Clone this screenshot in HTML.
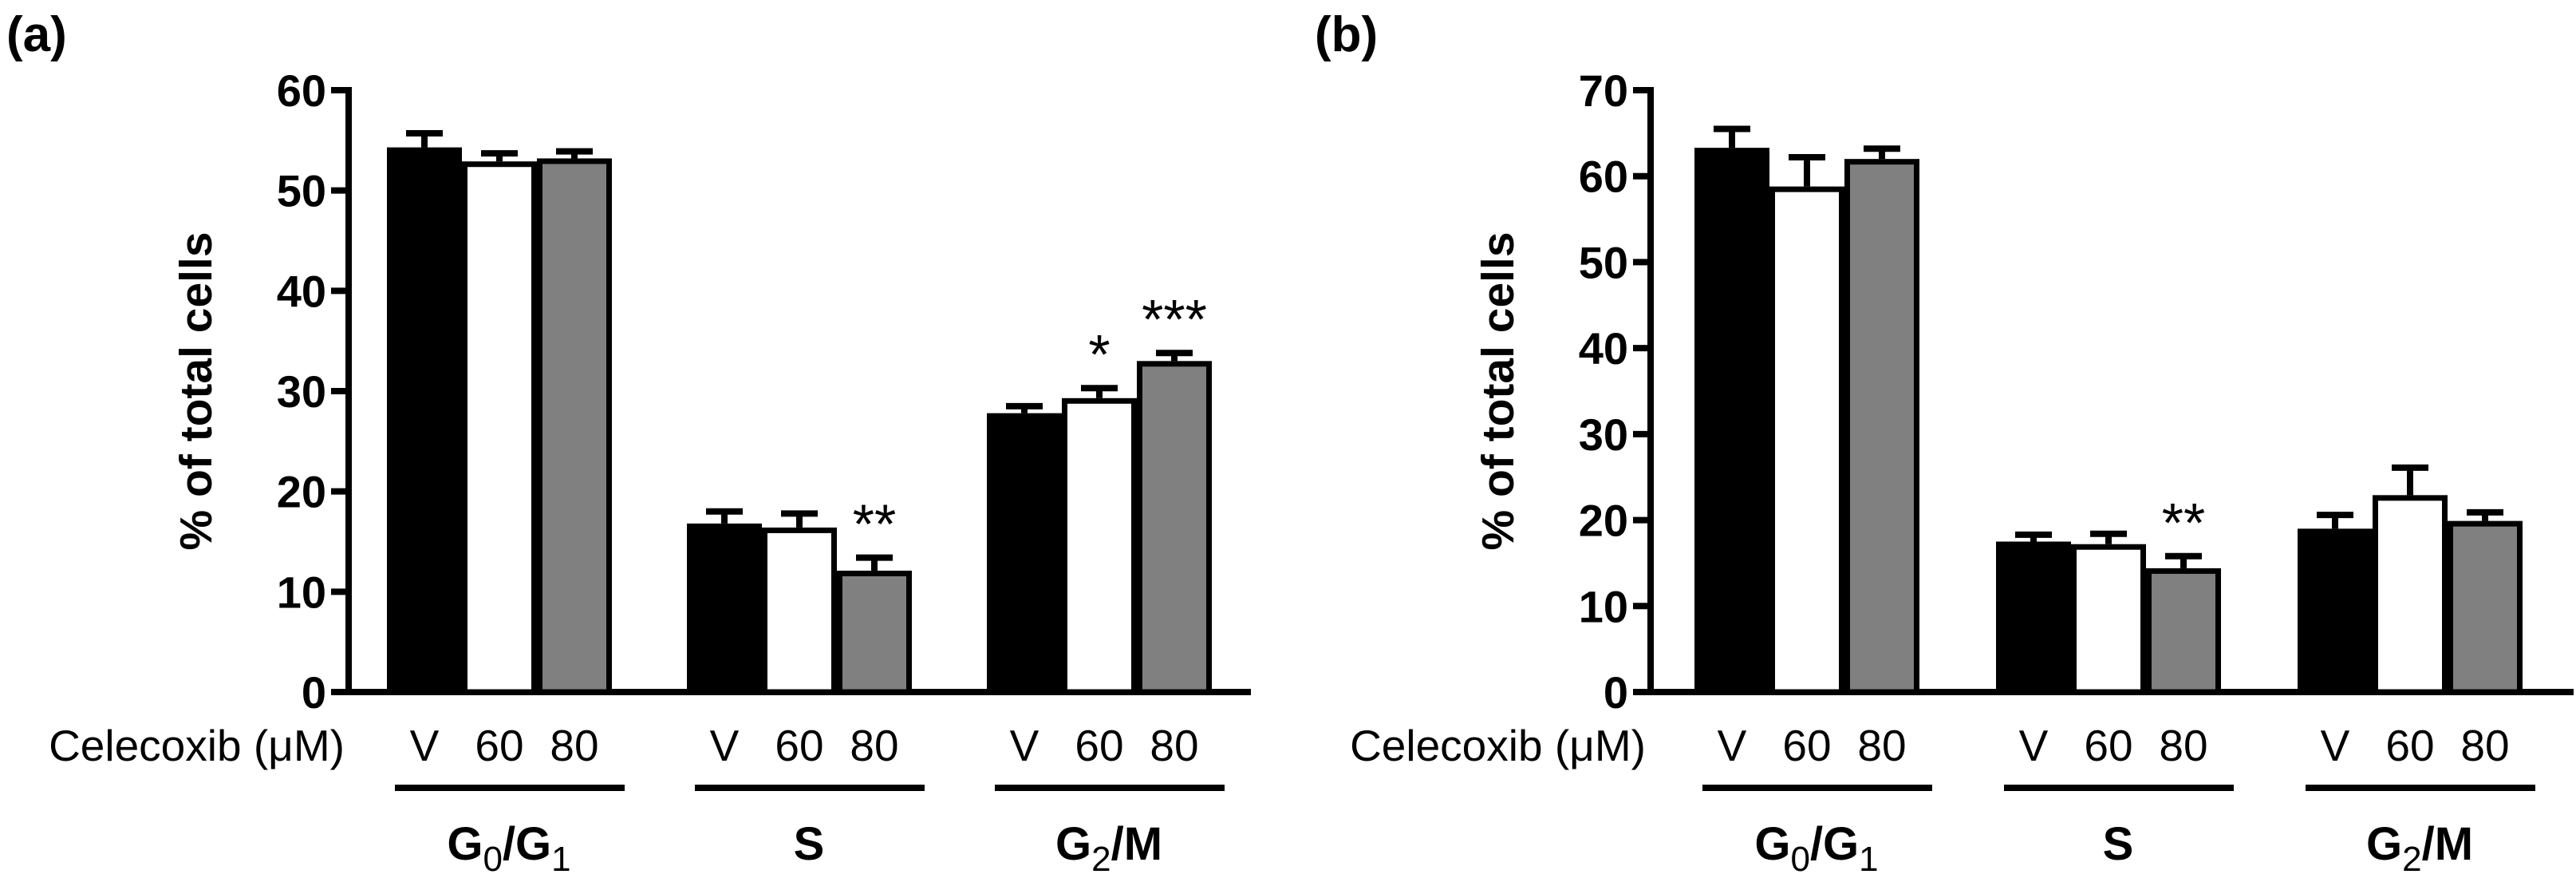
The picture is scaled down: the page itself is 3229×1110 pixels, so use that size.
<!DOCTYPE html>
<html><head><meta charset="utf-8"><style>
html,body{margin:0;padding:0;background:#fff;}
svg{display:block;font-family:"Liberation Sans",Arial,sans-serif;}
</style></head><body>
<svg id="fig" width="3229" height="1110" viewBox="0 0 3229 1110" xmlns="http://www.w3.org/2000/svg"></svg>
<script>
const phases = ["G0/G1","S","G2/M"];
const doses = ["V","60","80"];
const fills = ["#000","#fff","#808080"];
// panel a
const aMeans = [[54.3,52.9,53.2],[16.8,16.4,12.1],[27.8,29.3,33.0]];
const aErr   = [[55.7,53.7,53.9],[18.0,17.8,13.4],[28.5,30.3,33.8]];
const aStars = [["","",""],["","","**"],["","*","***"]];
const aTicks = [0,10,20,30,40,50,60];
// panel b
const bMeans = [[63.3,58.8,62.0],[17.5,17.2,14.4],[19.0,22.9,19.9]];
const bErr   = [[65.5,62.2,63.2],[18.3,18.4,15.8],[20.6,26.1,20.9]];
const bStars = [["","",""],["","","**"],["","",""]];
const bTicks = [0,10,20,30,40,50,60,70];

const NS="http://www.w3.org/2000/svg";
const svg=document.getElementById('fig');
function mk(tag,attrs,parent,text){const e=document.createElementNS(NS,tag);for(const k in attrs)e.setAttribute(k,attrs[k]);if(text!==undefined)e.textContent=text;(parent||svg).appendChild(e);return e;}

function panel(opt){
  const g=mk('g',{});
  
  
  const y0=867, ytop=113, ymax=opt.ticks[opt.ticks.length-1];
  const y=v=>y0-(v/ymax)*(y0-ytop);
  const ax=opt.axisX;
  const pl=mk('text',{x:opt.labelX,y:64,'font-size':62,'font-weight':'bold'},g,'('+opt.id+')');
  
  
  const yl=mk('line',{x1:ax,y1:ytop-4,x2:ax,y2:y0+4,stroke:'#000','stroke-width':8},g);
  
  
  const xl=mk('line',{x1:ax-4,y1:y0,x2:opt.axisEnd,y2:y0,stroke:'#000','stroke-width':8},g);
  
  
  opt.ticks.forEach(t=>{
    const tk=mk('line',{x1:ax-22,y1:y(t),x2:ax,y2:y(t),stroke:'#000','stroke-width':8},g);
    
    
    const tl=mk('text',{x:ax-28,y:y(t)+20,'font-size':56,'font-weight':'bold','text-anchor':'end'},g,String(t));
    
    
  });
  const yt=mk('text',{x:0,y:0,'font-size':57,'font-weight':'bold','text-anchor':'middle',transform:`translate(${ax-172},${(y0+ytop)/2}) rotate(-90)`},g,'% of total cells');
  
  
  const cl=mk('text',{x:opt.celX,y:953,'font-size':55,'text-anchor':'end'},g,'Celecoxib (\u03BCM)');
  
  
  const bw=94, pitch=opt.pitch;
  phases.forEach((ph,i)=>{
    const gx=opt.firstX+i*pitch;
    doses.forEach((d,j)=>{
      const x=gx+j*bw, v=opt.means[i][j], e=opt.err[i][j];
      const cx=x+bw/2;
      const st=mk('line',{x1:cx,y1:y(v),x2:cx,y2:y(e),stroke:'#000','stroke-width':8},g);
      
      
      const cp=mk('line',{x1:cx-23,y1:y(e),x2:cx+23,y2:y(e),stroke:'#000','stroke-width':8},g);
      
      
      const r=mk('rect',{x:x+3.5,y:y(v)+3.5,width:bw-7,height:y0-y(v)-3.5,fill:fills[j],stroke:'#000','stroke-width':7},g);
      
      
      const dl=mk('text',{x:cx,y:953,'font-size':55,'text-anchor':'middle'},g,d);
      
      
      const s=opt.stars[i][j];
      if(s){
        const sl=mk('text',{x:cx,y:y(e)-18,'font-size':70,'text-anchor':'middle'},g,s);
        
        
      }
    });
    const ul=mk('line',{x1:gx+10,y1:987,x2:gx+3*bw+16,y2:987,stroke:'#000','stroke-width':8},g);
    
    
    const pcx=gx+3*bw/2+12;
    const pt=mk('text',{x:pcx,y:1077,'font-size':58,'font-weight':'bold','text-anchor':'middle'},g);
    
    
    if(ph==='S'){pt.textContent='S';}
    else if(ph==='G0/G1'){pt.innerHTML='G<tspan font-weight="normal" font-size="44" dy="14">0</tspan><tspan dy="-14">/G</tspan><tspan font-weight="normal" font-size="44" dy="14">1</tspan>';}
    else {pt.innerHTML='G<tspan font-weight="normal" font-size="44" dy="14">2</tspan><tspan dy="-14">/M</tspan>';}
  });
}
panel({id:'a',labelX:8,axisX:437,axisEnd:1568,firstX:485,pitch:376,celX:432,means:aMeans,err:aErr,stars:aStars,ticks:aTicks});
panel({id:'b',labelX:1648,axisX:2069,axisEnd:3226,firstX:2124,pitch:378,celX:2063,means:bMeans,err:bErr,stars:bStars,ticks:bTicks});
</script>
</body></html>
